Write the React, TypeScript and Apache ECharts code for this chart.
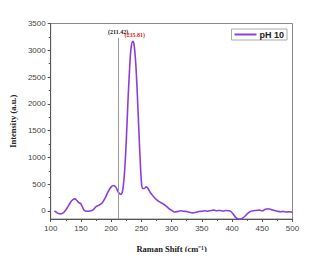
import React, { useEffect, useRef } from "react";
import * as echarts from "echarts";

const ramanShift = [106,110,115,120,125,130,135,140,143,146,150,155,160,165,170,175,180,185,190,195,200,204,208,212,216,219,222,225,228,231,233,235.81,238,241,244,247,250,252,255,258,261,265,270,275,280,285,290,295,300,305,310,315,320,325,330,335,340,345,350,355,360,365,370,375,380,385,390,395,398,402,406,410,414,418,422,426,430,435,440,445,450,455,460,465,470,475,480,485,490,495,500];
const intensity = [0,-30,-55,-40,20,110,195,225,200,160,130,20,-5,0,20,80,110,150,240,360,450,475,440,350,310,380,700,1300,2100,2750,3050,3170,3100,2700,2000,1200,550,420,420,450,420,340,270,210,170,140,100,50,10,-20,-10,5,-5,-10,-25,-35,-25,-10,-5,5,-5,10,15,5,10,0,10,5,-10,-60,-120,-150,-150,-130,-90,-45,-10,5,10,15,5,30,40,25,10,-5,-15,-10,-20,-15,-25];
const yLabelValues = [0, 500, 1000, 1500, 2000, 2500, 3000, 3500];
const yMinorValues = [250, 750, 1250, 1750, 2250, 2750, 3250];
const refLineX = 211.42;
const refLineTop = 3230;
const peakX = 235.81;
const peakY = 3170;
const seriesName = "pH 10";

export default function App() {
  const ref = useRef<HTMLDivElement>(null);
  useEffect(() => {
    if (!ref.current) return;
    const chart = echarts.init(ref.current, null, { renderer: "svg" });
    const data = ramanShift.map((x, i) => [x, intensity[i]]);
    const serif = "Liberation Serif, Times New Roman, serif";
    const sans = "Liberation Sans, Arial, sans-serif";
    chart.setOption({
      animation: false,
      backgroundColor: "#fff",
      grid: {
        left: 49.5, right: 23.5, top: 23.5, bottom: 41,
        show: true, borderColor: "#888", borderWidth: 1,
      },
      legend: {
        data: [{ name: seriesName, icon: "rect" }],
        right: 29, top: 29,
        borderColor: "#aaa", borderWidth: 1, borderRadius: 0,
        padding: [1, 3, 1, 3],
        itemWidth: 22, itemHeight: 2, itemGap: 2,
        textStyle: { fontFamily: sans, fontWeight: "bold", fontSize: 9, color: "#222", padding: [0, 0, 0, -2] },
      },
      xAxis: {
        type: "value", min: 100, max: 500, interval: 50,
        name: "Raman Shift (cm⁻¹)", nameLocation: "middle", nameGap: 25,
        nameTextStyle: { fontFamily: serif, fontWeight: "bold", fontSize: 8.5, color: "#222" },
        axisLine: { show: true, onZero: false, lineStyle: { color: "#555", width: 1 } },
        axisTick: { show: true, length: 3, lineStyle: { color: "#555" } },
        minorTick: { show: true, splitNumber: 2, length: 2, lineStyle: { color: "#555" } },
        axisLabel: { fontFamily: sans, fontSize: 8, color: "#444", margin: 5, formatter: (v: number) => String(v) },
        splitLine: { show: false },
      },
      yAxis: [
        {
          type: "value", min: -150, max: 3500,
          name: "Intensity (a.u.)", nameLocation: "middle", nameGap: 30,
          nameTextStyle: { fontFamily: serif, fontWeight: "bold", fontSize: 8.5, color: "#222" },
          axisLine: { show: true, onZero: false, lineStyle: { color: "#555", width: 1 } },
          axisTick: { show: true, length: 3, customValues: yLabelValues, lineStyle: { color: "#555" } },
          axisLabel: { fontFamily: sans, fontSize: 8, color: "#444", margin: 5, customValues: yLabelValues, formatter: (v: number) => String(v) },
          splitLine: { show: false },
        },
        {
          type: "value", min: -150, max: 3500, position: "left",
          axisLine: { show: false },
          axisTick: { show: true, length: 2, customValues: yMinorValues, lineStyle: { color: "#555" } },
          axisLabel: { show: false, customValues: yMinorValues },
          splitLine: { show: false },
        },
      ],
      series: [
        {
          name: seriesName, type: "line", data, showSymbol: false, symbol: "none",
          smooth: 0.3, color: "#8a3ee0",
          lineStyle: { width: 1.6, color: "#8a3ee0" },
          markLine: {
            silent: true, symbol: ["none", "none"],
            lineStyle: { color: "#999", type: "solid", width: 1 },
            label: {
              show: true, position: "end", formatter: "(211.42)", distance: 3,
              fontFamily: serif, fontWeight: "bold", fontSize: 6, color: "#222",
            },
            data: [[{ coord: [refLineX, -150] }, { coord: [refLineX, refLineTop] }]],
          },
          markPoint: {
            symbol: "circle", symbolSize: 0,
            label: {
              show: true, formatter: "(235.81)", offset: [2, -6],
              fontFamily: serif, fontWeight: "bold", fontSize: 6, color: "#d22",
            },
            data: [{ coord: [peakX, peakY] }],
          },
        },
      ],
      graphic: [
        {
          type: "text", left: "center", top: 254,
          style: {
            text: "Fig. 9: Raman spectrum of the sample at pH 10",
            font: "italic 12px " + serif, fill: "#333",
          },
        },
      ],
    });
    return () => chart.dispose();
  }, []);
  return <div ref={ref} style={{ width: 316, height: 260, margin: -8 }} />;
}
